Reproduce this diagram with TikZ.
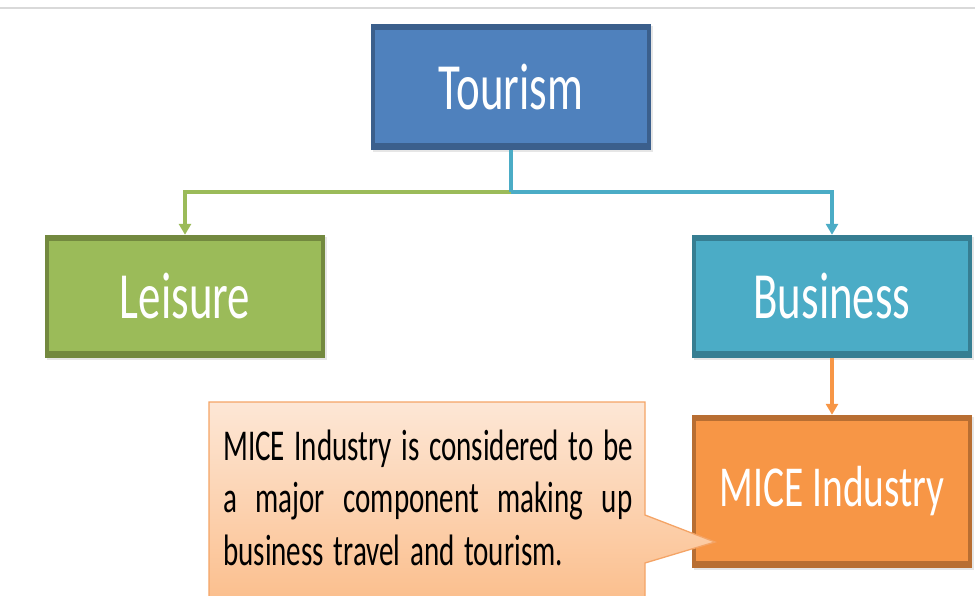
\documentclass[tikz,border=0pt]{standalone}
\usepackage{fontspec}
\usepackage{graphicx}
\setmainfont{Carlito}
\usetikzlibrary{arrows.meta,shadows}

\definecolor{tourFill}{HTML}{4F81BD}
\definecolor{tourLine}{HTML}{3B5F8C}
\definecolor{leisFill}{HTML}{9BBB59}
\definecolor{leisLine}{HTML}{73893F}
\definecolor{busFill}{HTML}{4BACC6}
\definecolor{busLine}{HTML}{367E92}
\definecolor{miceFill}{HTML}{F79646}
\definecolor{miceLine}{HTML}{B86E32}
\definecolor{noteTop}{HTML}{FDE7D6}
\definecolor{noteBot}{HTML}{FBBD8A}
\definecolor{noteLine}{HTML}{F4A466}

% condensed lettering
\newcommand\condensed[1]{\scalebox{0.68}[1]{#1}}
\newcommand\notecondensed[1]{\scalebox{0.66}[1]{#1}}

\tikzset{
  % #1 = face colour, #2 = frame colour (thicker along top and bottom)
  catbox/.style n args={2}{rectangle, fill=#2, minimum width=280pt,
    text=white, font=\fontsize{66}{70}\selectfont,
    path picture={\fill[#1]
      ([shift={(4pt,-6pt)}]path picture bounding box.north west) rectangle
      ([shift={(-4pt,7pt)}]path picture bounding box.south east);},
    drop shadow={shadow xshift=1.5pt, shadow yshift=-2pt, opacity=0.2}},
  link/.style={line width=4pt},
  tip/.style={-{Triangle[width=12pt,length=11pt]}},
}

\begin{document}
\begin{tikzpicture}[x=1pt,y=-1pt]
\useasboundingbox (0,0) rectangle (975,596);

% thin rule along the top
\draw[gray!30, line width=2pt] (0,8) -- (975,8);

% category boxes
\node[catbox={tourFill}{tourLine}, minimum height=126pt] (tourism) at (511,87) {\condensed{Tourism}};
\node[catbox={leisFill}{leisLine}, minimum height=123pt] (leisure) at (185,296.5) {\condensed{Leisure}};
\node[catbox={busFill}{busLine}, minimum height=123pt] (business) at (832,296.5) {\condensed{Business}};
\node[catbox={miceFill}{miceLine}, minimum height=153pt,
      font=\fontsize{58}{62}\selectfont] (mice) at (832,491.5) {\condensed{MICE Industry}};

% connectors
\coordinate (fork) at (511,192);
\draw[link, leisFill, tip] (fork) -| (leisure.north);
\draw[link, busFill, tip] (fork) -| (business.north);
\draw[link, busFill] (tourism.south) -- (fork);
\draw[link, miceFill, tip] (business.south) -- (mice.north);

% note callout pointing at the MICE box
\begin{scope}
  \clip (0,0) rectangle (975,596);
  \draw[noteLine, line width=1.3pt, top color=noteTop, bottom color=noteBot]
    (209,402) -- (645,402) -- (645,515) -- (715,542) -- (645,563)
    -- (645,610) -- (209,610) -- cycle;
\end{scope}
\node[anchor=base west, inner sep=0pt, text width=409pt, align=left,
      font=\fontsize{44}{52.5}\selectfont] (note) at (223,460)
  {\notecondensed{MICE Industry is considered to be}\\
   \notecondensed{\hbox to 620pt{a\hfill major\hfill component\hfill making\hfill up}}\\
   \notecondensed{business travel and tourism.}};
\end{tikzpicture}
\end{document}
